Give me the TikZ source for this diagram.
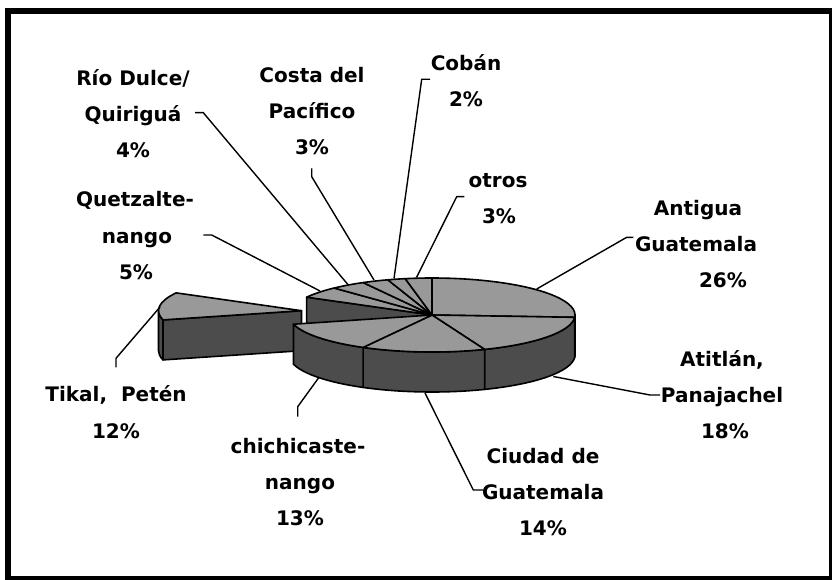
\documentclass[tikz,border=0pt]{standalone}
\usepackage{fontspec}
\setmainfont{DejaVu Sans}
\begin{document}
\begin{tikzpicture}[x=1pt,y=-1pt,
  top/.style={fill=black!40, draw=black, line width=1.6pt, line join=round},
  side/.style={fill=black!70, draw=black, line width=1.6pt, line join=round},
  leader/.style={draw=black, line width=1.4pt},
  lbl/.style={anchor=base, inner sep=0pt, font=\fontsize{20}{24}\selectfont\bfseries}]
\useasboundingbox (0,0) rectangle (832,580);
\fill[white] (0,0) rectangle (832,580);
\draw[line width=6pt] (8,11) rectangle (832,578.5);

% exploded slice: Tikal
\begin{scope}[shift={(301.5,310.7)}]
  \draw[side] (0,0) -- (165.6:143 and 37) -- ++(0,40) -- (0,40) -- cycle;
  \draw[side] (165.6:143 and 37) arc[start angle=165.6,end angle=180,x radius=143,y radius=37]
     -- ++(0,40) arc[start angle=180,end angle=165.6,x radius=143,y radius=37] -- cycle;
  \draw[top] (0,0) -- (165.6:143 and 37) arc[start angle=165.6,end angle=208.8,x radius=143,y radius=37] -- cycle;
\end{scope}

% main pie
\begin{scope}[shift={(432,315)}]
  \draw[side] (0,0) -- (208.8:143 and 37) -- ++(0,40) -- (0,40) -- cycle;
  \foreach \a/\b in {0/3.6, 3.6/68.4, 68.4/118.8, 118.8/165.6}{
    \draw[side] (\a:143 and 37) arc[start angle=\a,end angle=\b,x radius=143,y radius=37]
      -- ++(0,40) arc[start angle=\b,end angle=\a,x radius=143,y radius=37] -- cycle;
  }
  \foreach \a/\b in {-90/3.6, 3.6/68.4, 68.4/118.8, 118.8/165.6, 208.8/226.8, 226.8/241.2, 241.2/252, 252/259.2, 259.2/270}{
    \draw[top] (0,0) -- (\a:143 and 37) arc[start angle=\a,end angle=\b,x radius=143,y radius=37] -- cycle;
  }
\end{scope}

% labels
\node[lbl] (rio1) at (133,86) {Río Dulce/};
\node[lbl] (rio2) at (133,122) {Quiriguá};
\node[lbl] (rio3) at (133,158) {4\%};
\node[lbl] (cos1) at (312,82.5) {Costa del};
\node[lbl] (cos2) at (312,118.5) {Pacífico};
\node[lbl] (cos3) at (312,154.5) {3\%};
\node[lbl] (cob1) at (466,70.5) {Cobán};
\node[lbl] (cob2) at (466,106.5) {2\%};
\node[lbl] (otr1) at (498,188) {otros};
\node[lbl] (otr2) at (499,223.5) {3\%};
\node[lbl] (que1) at (135,207) {Quetzalte-};
\node[lbl] (que2) at (137,243) {nango};
\node[lbl] (que3) at (136,279) {5\%};
\node[lbl] (ant1) at (698,215) {Antigua};
\node[lbl] (ant2) at (696,251.5) {Guatemala};
\node[lbl] (ant3) at (723,287) {26\%};
\node[lbl] (ati1) at (722,366.5) {Atitlán,};
\node[lbl] (ati2) at (722,402) {Panajachel};
\node[lbl] (ati3) at (725,438.5) {18\%};
\node[lbl] (ciu1) at (543,463.5) {Ciudad de};
\node[lbl] (ciu2) at (543,499.5) {Guatemala};
\node[lbl] (ciu3) at (543,535) {14\%};
\node[lbl] (tik1) at (116,401.5) {Tikal,\ \ Petén};
\node[lbl] (tik2) at (116,438) {12\%};
\node[lbl] (chi1) at (298,453) {chichicaste-};
\node[lbl] (chi2) at (300,489) {nango};
\node[lbl] (chi3) at (300,525) {13\%};

% leader coordinates
\coordinate (rioA) at (195,112.7);   \coordinate (rioB) at (203.3,112.7); \coordinate (rioP) at (348.3,285);
\coordinate (cosA) at (311.7,168.3); \coordinate (cosB) at (311.7,176.7); \coordinate (cosP) at (374,280);
\coordinate (cobA) at (430,79.3);    \coordinate (cobB) at (421.7,79.3);  \coordinate (cobP) at (394,278.5);
\coordinate (otrA) at (464.3,196.7); \coordinate (otrB) at (456.7,196.7); \coordinate (otrP) at (416.5,277.5);
\coordinate (queA) at (203.3,235);   \coordinate (queB) at (211.7,235);   \coordinate (queP) at (320,291);
\coordinate (antA) at (633.3,237.3); \coordinate (antB) at (626.7,237.3); \coordinate (antP) at (536.7,289);
\coordinate (atiA) at (660,395);     \coordinate (atiB) at (650,395);     \coordinate (atiP) at (553.3,376.5);
\coordinate (ciuA) at (483.3,490);   \coordinate (ciuB) at (473.3,490);   \coordinate (ciuP) at (425,393);
\coordinate (tikA) at (116,367.3);   \coordinate (tikB) at (116,358.3);   \coordinate (tikP) at (160,307);
\coordinate (chiA) at (297.7,416.7); \coordinate (chiB) at (297.7,406.7); \coordinate (chiP) at (318.5,378);

\draw[leader] (rioA) -- (rioB) -- (rioP);
\draw[leader] (cosA) -- (cosB) -- (cosP);
\draw[leader] (cobA) -- (cobB) -- (cobP);
\draw[leader] (otrA) -- (otrB) -- (otrP);
\draw[leader] (queA) -- (queB) -- (queP);
\draw[leader] (antA) -- (antB) -- (antP);
\draw[leader] (atiA) -- (atiB) -- (atiP);
\draw[leader] (ciuA) -- (ciuB) -- (ciuP);
\draw[leader] (tikA) -- (tikB) -- (tikP);
\draw[leader] (chiA) -- (chiB) -- (chiP);
\end{tikzpicture}
\end{document}
